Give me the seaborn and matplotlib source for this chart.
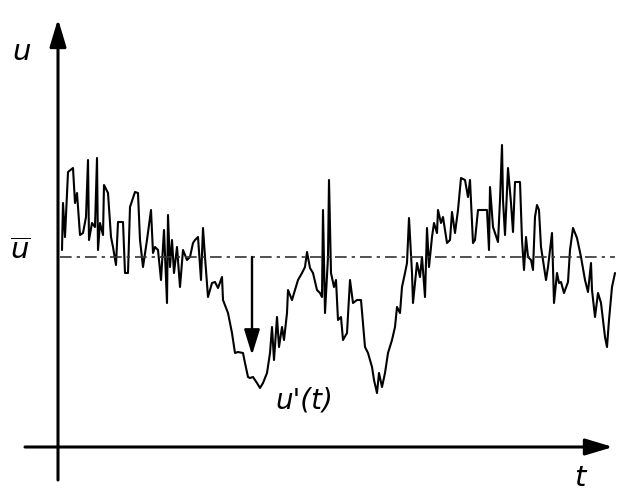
import matplotlib
matplotlib.use("Agg")
import matplotlib.pyplot as plt
import seaborn as sns
import pandas as pd

# Sampled velocity record: time t and instantaneous velocity u
t = [4, 5, 7, 10, 15, 17, 19, 22, 25, 28,
     30, 31, 34, 37, 39, 40, 42, 45, 46, 50,
     53, 55, 58, 60, 65, 67, 70, 72, 77, 80,
     82, 85, 89, 93, 95, 97, 100, 103, 106, 109,
     110, 112, 114, 116, 119, 122, 125, 129, 132, 135,
     137, 140, 143, 145, 147, 150, 154, 157, 160, 164,
     165, 170, 174, 177, 180, 185, 187, 190, 192, 195,
     199, 202, 205, 209, 212, 214, 216, 219, 221, 224,
     226, 229, 230, 234, 237, 240, 244, 247, 249, 252,
     255, 259, 262, 264, 265, 267, 270, 271, 273, 276,
     278, 280, 283, 285, 289, 292, 295, 299, 303, 307,
     310, 314, 316, 319, 321, 324, 327, 330, 334, 337,
     339, 342, 344, 347, 349, 351, 354, 355, 359, 362,
     364, 367, 369, 371, 374, 376, 379, 380, 383, 385,
     389, 392, 394, 397, 400, 403, 407, 410, 412, 415,
     417, 420, 429, 431, 432, 435, 440, 442, 444, 445,
     447, 450, 453, 455, 457, 462, 464, 466, 468, 470,
     473, 475, 477, 479, 481, 483, 485, 488, 490, 494,
     496, 499, 501, 503, 506, 510, 512, 515, 519, 523,
     527, 530, 533, 534, 537, 540, 543, 547, 549, 551,
     554, 557]
u = [197, 244, 210, 275, 279, 244, 254, 212, 214, 230,
     287, 207, 224, 220, 289, 197, 224, 212, 262, 254,
     210, 200, 182, 225, 225, 174, 174, 240, 255, 254,
     207, 180, 207, 237, 194, 200, 197, 167, 217, 144,
     232, 180, 207, 174, 200, 160, 197, 187, 190, 204,
     207, 210, 167, 219, 190, 150, 164, 165, 159, 170,
     147, 134, 114, 94, 95, 94, 84, 70, 69, 70,
     64, 59, 64, 74, 94, 120, 87, 130, 100, 120,
     107, 134, 157, 147, 157, 167, 174, 180, 195, 179,
     174, 157, 154, 150, 237, 134, 190, 267, 174, 160,
     167, 127, 130, 107, 114, 167, 144, 147, 147, 100,
     94, 80, 67, 54, 74, 60, 74, 94, 107, 120,
     140, 134, 160, 174, 184, 229, 174, 144, 184, 170,
     190, 150, 219, 180, 210, 224, 214, 237, 224, 230,
     204, 207, 235, 214, 237, 269, 267, 250, 267, 204,
     207, 237, 237, 197, 260, 220, 205, 247, 302, 247,
     212, 279, 244, 215, 265, 265, 207, 177, 210, 190,
     187, 177, 230, 242, 237, 200, 187, 167, 180, 214,
     144, 174, 164, 165, 154, 165, 197, 219, 209, 190,
     167, 155, 184, 157, 130, 154, 144, 110, 100, 127,
     160, 174]

u_mean = 190
arrow_t = 194
arrow_tip = 92

df = pd.DataFrame({"t": t, "u": u})

sns.set_theme(style="white")
plt.rcParams["font.family"] = ["DejaVu Sans"]
plt.rcParams["text.color"] = "black"

fig = plt.figure(figsize=(6.27, 4.92), dpi=100)
ax = fig.add_axes([0, 0, 1, 1])
ax.set_xlim(-58, 569)
ax.set_ylim(-45, 447)
ax.axis("off")

# Velocity signal
sns.lineplot(data=df, x="t", y="u", ax=ax, color="black", linewidth=1.5,
             estimator=None, sort=False)

# Mean velocity level
ax.plot([2, 557], [u_mean, u_mean], color="#333333", linewidth=1.2,
        linestyle=(0, (7, 3, 2, 3)))

# Fluctuation arrow u'(t)
ax.annotate("", xy=(arrow_t, arrow_tip), xytext=(arrow_t, u_mean),
            arrowprops=dict(arrowstyle="-|>,head_length=1.3,head_width=0.4",
                            color="black", lw=1.7, shrinkA=0, shrinkB=0))

# Coordinate axes
ax.annotate("", xy=(0, 428), xytext=(0, -33),
            arrowprops=dict(arrowstyle="-|>,head_length=1.4,head_width=0.42",
                            color="black", lw=2.2, shrinkA=0, shrinkB=0))
ax.annotate("", xy=(555, 0), xytext=(-33, 0),
            arrowprops=dict(arrowstyle="-|>,head_length=1.4,head_width=0.42",
                            color="black", lw=2.2, shrinkA=0, shrinkB=0))

# Labels
ax.text(-36, 395, "u", fontsize=21, style="italic", ha="center", va="center")
ax.text(-38, 196, r"$\overline{\mathit{u}}$", fontsize=21, ha="center", va="center")
ax.text(246, 46, "u'(t)", fontsize=20, style="italic", ha="center", va="center")
ax.text(522, -31, "t", fontsize=21, style="italic", ha="center", va="center")

fig.savefig("out.png", dpi=100)
